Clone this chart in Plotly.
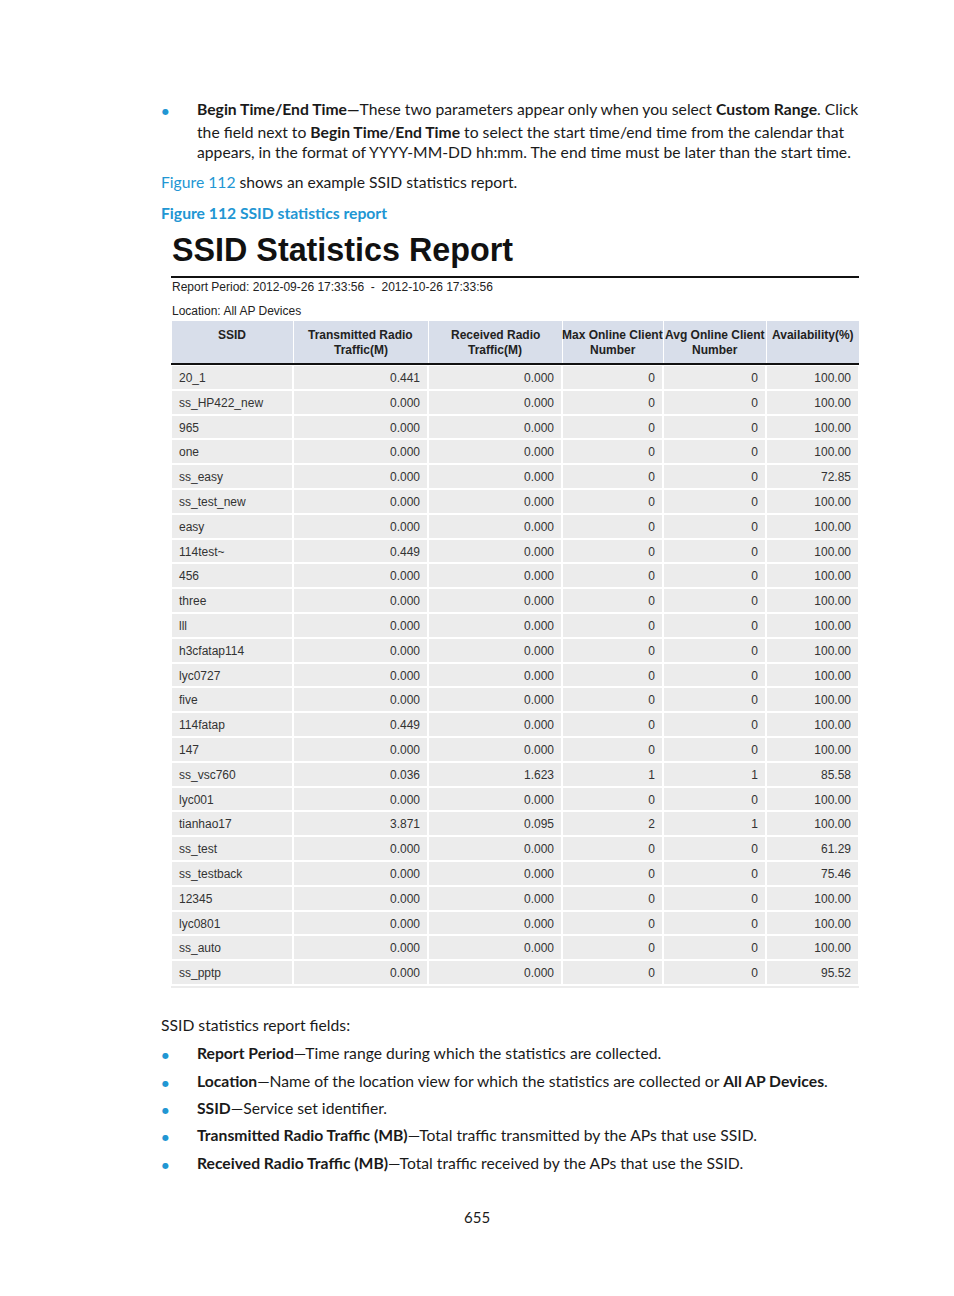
import plotly.graph_objects as go

# table data
ssid = ["20_1", "ss_HP422_new", "965", "one", "ss_easy", "ss_test_new", "easy",
        "114test~", "456", "three", "lll", "h3cfatap114", "lyc0727", "five",
        "114fatap", "147", "ss_vsc760", "lyc001", "tianhao17", "ss_test",
        "ss_testback", "12345", "lyc0801", "ss_auto", "ss_pptp"]
tx_traffic = [0.441, 0.000, 0.000, 0.000, 0.000, 0.000, 0.000, 0.449, 0.000, 0.000,
              0.000, 0.000, 0.000, 0.000, 0.449, 0.000, 0.036, 0.000, 3.871, 0.000,
              0.000, 0.000, 0.000, 0.000, 0.000]
rx_traffic = [0.000, 0.000, 0.000, 0.000, 0.000, 0.000, 0.000, 0.000, 0.000, 0.000,
              0.000, 0.000, 0.000, 0.000, 0.000, 0.000, 1.623, 0.000, 0.095, 0.000,
              0.000, 0.000, 0.000, 0.000, 0.000]
max_clients = [0, 0, 0, 0, 0, 0, 0, 0, 0, 0, 0, 0, 0, 0, 0, 0, 1, 0, 2, 0, 0, 0, 0, 0, 0]
avg_clients = [0, 0, 0, 0, 0, 0, 0, 0, 0, 0, 0, 0, 0, 0, 0, 0, 1, 0, 1, 0, 0, 0, 0, 0, 0]
availability = [100.00, 100.00, 100.00, 100.00, 72.85, 100.00, 100.00, 100.00, 100.00,
                100.00, 100.00, 100.00, 100.00, 100.00, 100.00, 100.00, 85.58, 100.00,
                100.00, 61.29, 75.46, 100.00, 100.00, 100.00, 95.52]
# header labels, one entry per printed line
headers = [["SSID"], ["Transmitted Radio", "Traffic(M)"], ["Received Radio", "Traffic(M)"],
           ["Max Online Client", "Number"], ["Avg Online Client", "Number"], ["Availability(%)"]]

W, H = 954, 1296
BODY = "Lato"
BODY_SIZE = 15.7
TABLE_FONT = "Liberation Sans, Arial"
INK = "#1a1a1a"
BLUE = "#2196d3"

TABLE_X0, TABLE_X1 = 171, 859
TABLE_Y0, TABLE_Y1 = 320, 992
COL_W = [122, 135, 134, 101, 103, 93]


def px(x, y):
    return x / W, 1 - y / H


fig = go.Figure()

t_left, t_top = px(TABLE_X0, TABLE_Y0)
t_right, t_bottom = px(TABLE_X1, TABLE_Y1)
fig.add_trace(go.Table(
    domain=dict(x=[t_left, t_right], y=[t_bottom, t_top]),
    columnwidth=COL_W,
    header=dict(
        values=["" for _ in headers],
        fill_color="#d8deea",
        line=dict(color="white", width=1),
        height=45,
    ),
    cells=dict(
        values=[ssid, tx_traffic, rx_traffic, max_clients, avg_clients, availability],
        format=["", ".3f", ".3f", "d", "d", ".2f"],
        fill_color="#ececec",
        line=dict(color="white", width=2),
        align=["left", "right", "right", "right", "right", "right"],
        height=24.8,
        font=dict(family=TABLE_FONT, size=12, color="#333"),
    ),
))


def hline(y, color, width):
    fig.add_shape(type="line", xref="paper", yref="paper",
                  x0=px(TABLE_X0, 0)[0], x1=px(TABLE_X1, 0)[0],
                  y0=px(0, y)[1], y1=px(0, y)[1],
                  line=dict(color=color, width=width), layer="above")


# rules: under the title, under the table header, faint edge below the table
hline(277, "#111", 2)
hline(364, "#111", 2)
hline(987, "#ececec", 2)


def text(x, y, s, size=BODY_SIZE, color=INK, family=BODY, anchor="left"):
    # annotations carry ~2px of inner padding, so nudge left-anchored text back
    ax, ay = px(x - 2 if anchor == "left" else x, y)
    fig.add_annotation(x=ax, y=ay, xref="paper", yref="paper", text=s,
                       showarrow=False, xanchor=anchor, yanchor="middle",
                       font=dict(family=family, size=size, color=color))


# header labels: every line centred in its column
left = TABLE_X0
for w, lines in zip(COL_W, headers):
    for i, line in enumerate(lines):
        text(left + w / 2, 335 + 14.5 * i, f"<b>{line}</b>", size=12, color="#222",
             family=TABLE_FONT, anchor="center")
    left += w


def bullet(y):
    text(165, y, "●", size=8, color=BLUE, family="DejaVu Sans", anchor="center")


# top paragraph
bullet(112)
text(197, 109.5, "<b>Begin Time/End Time—</b>These two parameters appear only when you select "
                 "<b>Custom Range</b>. Click")
text(197, 131.5, "the field next to <b>Begin Time</b>/<b>End Time</b> to select the start "
                 "time/end time from the calendar that")
text(197, 152.5, "appears, in the format of YYYY-MM-DD hh:mm. The end time must be later "
                 "than the start time.")
text(161, 182.5, f"<span style='color:{BLUE}'>Figure 112</span> shows an example SSID statistics report.")
text(161, 213.5, "<b>Figure 112 SSID statistics report</b>", color=BLUE)

# report heading
text(172, 250, "<b>SSID Statistics Report</b>", size=32.3, color="#111", family=TABLE_FONT)
text(172, 287, "Report Period: 2012-09-26 17:33:56  -  2012-10-26 17:33:56",
     size=12, color="#222", family=TABLE_FONT)
text(172, 311, "Location: All AP Devices", size=12, color="#222", family=TABLE_FONT)

# field list
text(161, 1024.5, "SSID statistics report fields:")
fields = [
    (1052.5, "<b>Report Period</b>—Time range during which the statistics are collected."),
    (1080.5, "<b>Location</b>—Name of the location view for which the statistics are collected or "
             "<b>All AP Devices</b>."),
    (1107.5, "<b>SSID</b>—Service set identifier."),
    (1134.5, "<b>Transmitted Radio Traffic (MB)</b>—Total traffic transmitted by the APs that use SSID."),
    (1162.5, "<b>Received Radio Traffic (MB)</b>—Total traffic received by the APs that use the SSID."),
]
for y, s in fields:
    bullet(y + 2.5)
    text(197, y, s)

text(477, 1217, "655", size=15, anchor="center")

fig.update_layout(
    width=W, height=H,
    margin=dict(l=0, r=0, t=0, b=0),
    paper_bgcolor="white", plot_bgcolor="white",
    xaxis=dict(visible=False), yaxis=dict(visible=False),
    showlegend=False,
)

# drop the browser's default page margin so the figure sits at the window origin
fig.write_html("out.html", config={"displayModeBar": False},
               post_script="document.body.style.margin = '0';")
